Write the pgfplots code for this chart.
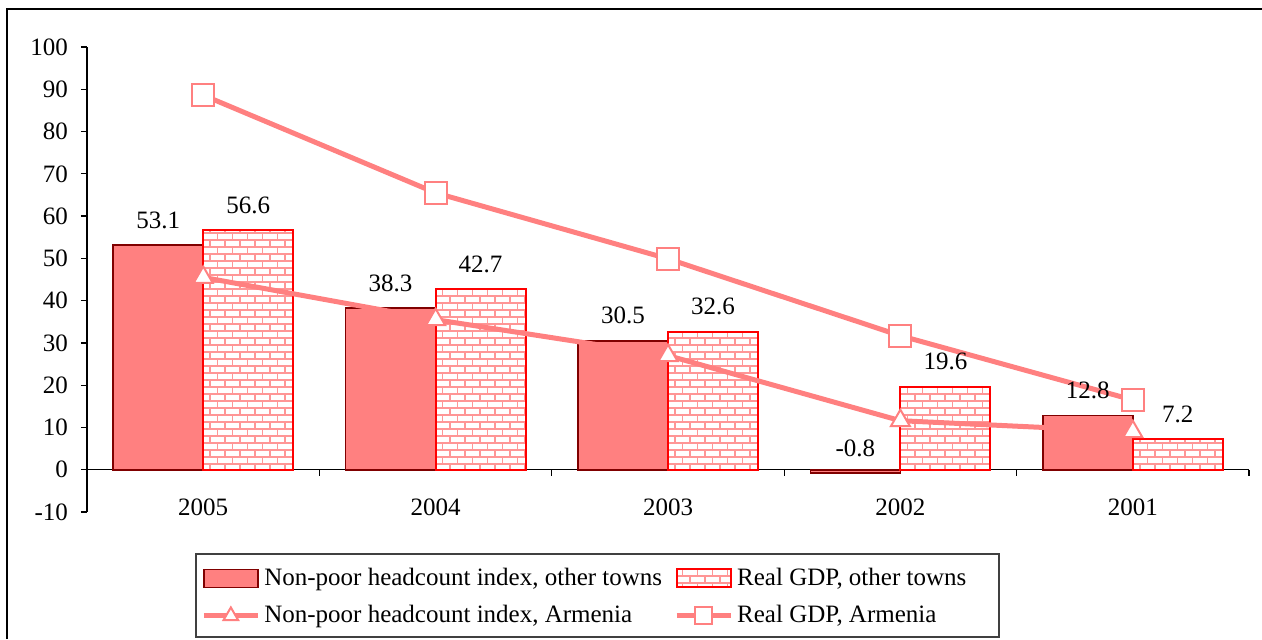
\documentclass[border=0pt]{standalone}
\usepackage{fontspec}
\setmainfont{Liberation Serif}
\usepackage{pgfplots}
\pgfplotsset{compat=1.18}
\usetikzlibrary{patterns}
\definecolor{salmon}{RGB}{255,128,128}
\definecolor{darkred}{RGB}{128,0,0}
\definecolor{mortar}{RGB}{255,150,150}
\newcommand{\cf}{\fontsize{12.5}{15}\selectfont}
% brick fill like the spreadsheet pattern
\pgfdeclarepatternformonly{mybricks}{\pgfpoint{-1pt}{-1pt}}{\pgfpoint{9pt}{9pt}}{\pgfpoint{7.5pt}{7pt}}{%
  \pgfsetlinewidth{0.9pt}%
  \pgfpathmoveto{\pgfpoint{0pt}{0pt}}\pgfpathlineto{\pgfpoint{7.5pt}{0pt}}%
  \pgfpathmoveto{\pgfpoint{0pt}{3.5pt}}\pgfpathlineto{\pgfpoint{7.5pt}{3.5pt}}%
  \pgfpathmoveto{\pgfpoint{0pt}{0pt}}\pgfpathlineto{\pgfpoint{0pt}{3.5pt}}%
  \pgfpathmoveto{\pgfpoint{3.75pt}{3.5pt}}\pgfpathlineto{\pgfpoint{3.75pt}{7pt}}%
  \pgfusepath{stroke}}
\pgfplotsset{
  barleg/.style={legend image code/.code={\draw[##1] (0pt,-4.5pt) rectangle (27pt,4.5pt);}},
  lineleg/.style={legend image code/.code={\draw[##1, mark size=4.2pt, mark repeat=2, mark phase=2] plot coordinates {(0pt,0pt) (13.5pt,0pt) (27pt,0pt)};}},
  barlabels/.style={nodes near coords, nodes near coords align=above,
    every node near coord/.append style={font=\cf, text=black, yshift=4.5pt, xshift=#1}},
}

\begin{document}
\begin{tikzpicture}
\useasboundingbox (0,0) rectangle (631pt,319.5pt);
\draw[line width=1pt] (3.5pt,0) -- (3.5pt,315pt) -- (631pt,315pt);
\draw[line width=0.6pt, black!75] (98pt,1pt) rectangle (499.5pt,42.5pt);
\begin{axis}[
  at={(43.5pt,63.5pt)}, anchor=south west,
  scale only axis, width=581pt, height=232.5pt,
  xmin=-0.5, xmax=4.5, ymin=-10, ymax=100,
  axis x line=middle, axis y line=left,
  axis line style={-, line width=0.6pt},
  hide obscured x ticks=false, hide obscured y ticks=false,
  xtick={-0.5,0.5,1.5,2.5,3.5,4.5}, xticklabels={},
  extra x ticks={0,1,2,3,4},
  extra x tick labels={2005,2004,2003,2002,2001},
  extra x tick style={major tick length=0pt, xticklabel style={yshift=-11pt}},
  ytick={-10,0,10,20,30,40,50,60,70,80,90,100},
  tick align=outside, major tick length=3pt,
  tick style={black, line width=0.6pt},
  yticklabel style={xshift=-3pt},
  tick label style={font=\cf},
  /pgf/number format/assume math mode=true,
  legend columns=2,
  legend cell align=left,
  legend style={draw=none, fill=none, font=\cf,
    at={(axis description cs:0.0929,-0.103)}, anchor=north west,
    row sep=4.5pt,
    /tikz/every even column/.append style={column sep=4pt}},
]
\addplot[ybar, bar width=0.387, bar shift=-0.1935, fill=salmon, draw=darkred, line width=0.8pt,
  barlabels=-22.5pt, barleg]
  coordinates {(0,53.1) (1,38.3) (2,30.5) (3,-0.8) (4,12.8)};
\addlegendentry{Non-poor headcount index, other towns}
\addplot[ybar, bar width=0.387, bar shift=0.1935, draw=red, line width=1pt,
  pattern=mybricks, pattern color=mortar, barlabels=22.5pt, barleg]
  coordinates {(0,56.6) (1,42.7) (2,32.6) (3,19.6) (4,7.2)};
\addlegendentry{Real GDP, other towns}
\addplot[salmon, line width=2.5pt, mark=triangle*, mark size=5.5pt,
  mark options={fill=white, draw=salmon, line width=1pt, solid}, lineleg]
  coordinates {(0,45.5) (1,35.5) (2,27.0) (3,11.6) (4,9.0)};
\addlegendentry{Non-poor headcount index, Armenia}
\addplot[salmon, line width=2.5pt, mark=square*, mark size=5.5pt,
  mark options={fill=white, draw=salmon, line width=1pt, solid}, lineleg]
  coordinates {(0,88.6) (1,65.5) (2,49.9) (3,31.7) (4,16.5)};
\addlegendentry{Real GDP, Armenia}
\end{axis}
\end{tikzpicture}
\end{document}
